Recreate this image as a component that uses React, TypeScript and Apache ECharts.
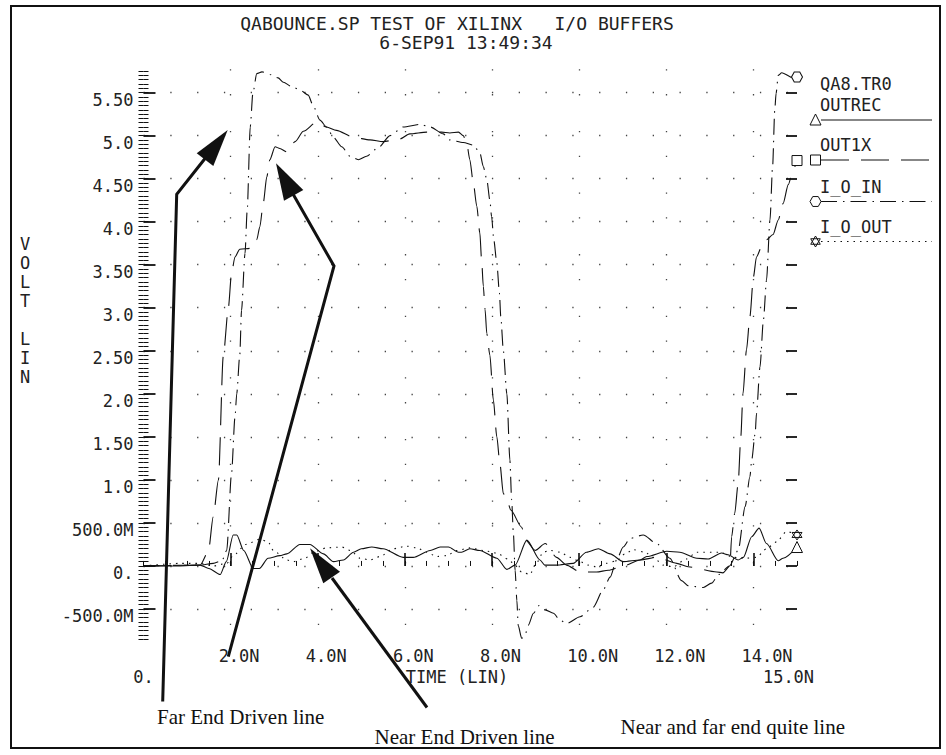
import React, { useEffect, useRef } from 'react';
import * as echarts from 'echarts';

// ---- axis extents and tick labels (time in ns, voltage in V) ----
const T_RANGE = [0, 15];
const V_RANGE = [-0.88, 5.77];
const X_MINOR_STEP = 0.5;
const Y_MINOR_STEP = 0.05;
const X_MAJOR_TICKS = [2, 4, 6, 8, 10, 12, 14];
const X_MAJOR_LABELS = ['2.0N', '4.0N', '6.0N', '8.0N', '10.0N', '12.0N', '14.0N'];
const X_END_TICKS = [0, 15];
const X_END_LABELS = ['0.', '15.0N'];
const Y_MAJOR_TICKS = [-0.5, 0, 0.5, 1, 1.5, 2, 2.5, 3, 3.5, 4, 4.5, 5, 5.5];
const Y_MAJOR_LABELS = ['-500.0M', '0.', '500.0M', '1.0', '1.50', '2.0', '2.50', '3.0', '3.50', '4.0', '4.50', '5.0', '5.50'];

// ---- texts ----
const TITLE = 'QABOUNCE.SP TEST OF XILINX\u00a0\u00a0\u00a0I/O BUFFERS';
const SUBTITLE = '6-SEP91 13:49:34';
const PROBE_NAME = 'QA8.TR0';
const X_NAME = 'TIME (LIN)';
const Y_NAME = 'V\nO\nL\nT\n\nL\nI\nN';
const NOTE_FAR = 'Far End Driven line';
const NOTE_NEAR = 'Near End Driven line';
const NOTE_QUIET = 'Near and far end quite line';

// ---- waveforms: [time ns, volts] ----
const OUTREC: [number, number][] = [
  [0, 0], [0.8, 0.0], [1.3, 0.01], [1.5, -0.03], [1.76, -0.1], [1.9, 0.05], [2.06, 0.36], [2.14, 0.36],
  [2.3, 0.18], [2.52, -0.03], [2.66, -0.03], [2.86, 0.09], [3.13, 0.12], [3.29, 0.14], [3.59, 0.25],
  [3.82, 0.25], [4.13, 0.14], [4.36, 0.05], [4.59, 0.07], [4.82, 0.16], [5.0, 0.2], [5.24, 0.22],
  [5.5, 0.2], [5.96, 0.1], [6.19, 0.1], [6.58, 0.18], [6.81, 0.22], [7.0, 0.22], [7.23, 0.16],
  [7.3, 0.16], [7.49, 0.2], [7.72, 0.18], [8.11, 0.09], [8.34, -0.04], [8.53, 0.01], [8.8, 0.3],
  [9.1, 0.07], [9.21, 0.01], [9.48, 0.01], [9.86, 0.03], [10.17, 0.16], [10.44, 0.2], [10.71, 0.14],
  [11.01, 0.05], [11.4, 0.07], [11.55, 0.11], [12.01, 0.17], [12.31, 0.16], [12.7, 0.09], [12.96, 0.08],
  [13.27, 0.15], [13.42, 0.13], [13.65, 0.07], [13.77, 0.1], [13.96, 0.34], [14.13, 0.44], [14.3, 0.26],
  [14.57, 0.06], [14.68, 0.09], [15, 0.22],
];

const OUT1X: [number, number][] = [
  [0, 0], [1.3, 0.01], [1.49, 0.17], [1.6, 0.57], [1.72, 1.0], [1.83, 2.43], [1.95, 3.01], [2.02, 3.4],
  [2.1, 3.59], [2.21, 3.68], [2.48, 3.69], [2.6, 3.79], [2.67, 3.94], [2.75, 4.22], [2.83, 4.52],
  [2.9, 4.72], [3.02, 4.87], [3.13, 4.85], [3.29, 4.81], [3.48, 4.93], [3.67, 5.05], [3.98, 5.16],
  [4.2, 5.1], [4.43, 5.06], [4.82, 4.98], [5.2, 4.95], [5.5, 4.93], [5.88, 4.96], [6.11, 5.02],
  [6.5, 5.04], [6.84, 5.04], [7.03, 5.03], [7.23, 5.04], [7.34, 5.0], [7.42, 4.91], [7.49, 4.72],
  [7.57, 4.45], [7.65, 4.18], [7.72, 3.87], [7.76, 3.56], [7.8, 3.25], [7.84, 2.98], [7.88, 2.7],
  [7.95, 2.45], [8.03, 1.93], [8.11, 1.5], [8.18, 1.19], [8.26, 0.84], [8.34, 0.77], [8.43, 0.65],
  [8.68, 0.45], [8.77, 0.3], [8.99, 0.18], [9.22, 0.26], [9.48, 0.1], [9.71, 0.01], [10.02, -0.07],
  [10.4, -0.07], [10.67, -0.05], [11.01, 0.0], [11.4, 0.07], [11.78, 0.1], [12.24, 0.03], [12.5, -0.01],
  [13.16, -0.07], [13.3, -0.08], [13.46, 0.0], [13.5, 0.34], [13.57, 0.61], [13.65, 0.96], [13.71, 1.5],
  [13.76, 2.0], [13.84, 2.51], [13.92, 2.9], [14.0, 3.36], [14.07, 3.59], [14.19, 3.71], [14.3, 3.79],
  [14.45, 3.85], [14.57, 4.02], [14.68, 4.21], [14.8, 4.43], [14.91, 4.6], [15, 4.71],
];

const I_O_IN: [number, number][] = [
  [0, 0], [1.3, 0.01], [1.6, 0.03], [1.8, 0.06], [1.91, 0.18], [2.02, 1.07], [2.1, 1.73], [2.14, 2.0],
  [2.21, 2.45], [2.25, 2.97], [2.33, 3.63], [2.38, 4.13], [2.45, 5.1], [2.51, 5.49], [2.6, 5.72],
  [2.72, 5.74], [2.9, 5.71], [3.09, 5.67], [3.21, 5.62], [3.4, 5.57], [3.59, 5.53], [3.78, 5.47],
  [3.9, 5.34], [4.05, 5.18], [4.2, 5.1], [4.36, 4.98], [4.55, 4.87], [4.74, 4.76], [4.93, 4.72],
  [5.12, 4.76], [5.39, 4.86], [5.66, 5.0], [5.96, 5.1], [6.35, 5.13], [6.58, 5.1], [6.88, 5.02],
  [7.03, 4.95], [7.34, 4.92], [7.57, 4.89], [7.72, 4.8], [7.8, 4.64], [7.88, 4.49], [7.95, 4.25],
  [7.99, 4.06], [8.04, 3.79], [8.11, 3.52], [8.17, 3.17], [8.2, 2.9], [8.26, 2.5], [8.34, 2.0],
  [8.41, 1.23], [8.45, 0.77], [8.49, 0.38], [8.53, -0.05], [8.57, -0.4], [8.6, -0.69], [8.68, -0.84],
  [8.76, -0.8], [8.83, -0.69], [8.95, -0.55], [9.08, -0.46], [9.22, -0.51], [9.41, -0.55], [9.56, -0.63],
  [9.71, -0.67], [10.02, -0.59], [10.32, -0.48], [10.55, -0.28], [10.71, -0.13], [10.86, 0.07],
  [11.01, 0.22], [11.17, 0.32], [11.47, 0.36], [11.78, 0.26], [12.08, 0.09], [12.35, -0.17],
  [12.5, -0.23], [12.85, -0.25], [13.04, -0.2], [13.2, -0.1], [13.45, 0.0], [13.65, 0.18], [13.81, 0.69],
  [13.92, 1.04], [13.96, 1.23], [14.04, 1.54], [14.07, 1.77], [14.15, 2.31], [14.23, 2.86], [14.3, 3.32],
  [14.38, 4.02], [14.44, 4.64], [14.49, 5.3], [14.52, 5.49], [14.57, 5.7], [14.65, 5.73], [14.91, 5.67],
  [15, 5.68],
];

const I_O_OUT: [number, number][] = [
  [0, 0], [0.84, 0.03], [1.3, 0.03], [1.6, 0.0], [1.91, 0.03], [2.06, 0.12], [2.35, 0.25], [2.67, 0.31],
  [2.86, 0.28], [2.98, 0.18], [3.29, 0.07], [3.44, 0.05], [3.71, 0.09], [3.9, 0.16], [4.2, 0.21],
  [4.55, 0.22], [4.75, 0.18], [4.97, 0.09], [5.2, 0.07], [5.43, 0.11], [5.73, 0.2], [6.04, 0.23],
  [6.27, 0.21], [6.5, 0.16], [6.73, 0.11], [6.96, 0.12], [7.19, 0.18], [7.49, 0.21], [7.8, 0.18],
  [8.11, 0.15], [8.37, 0.08], [8.49, 0.03], [8.68, -0.07], [8.87, -0.1], [8.99, 0.01], [9.18, 0.16],
  [9.33, 0.18], [9.56, 0.16], [9.79, 0.1], [10.02, 0.05], [10.21, 0.01], [10.4, -0.01], [10.63, 0.03],
  [10.86, 0.06], [11.05, 0.14], [11.24, 0.19], [11.51, 0.16], [11.7, 0.1], [11.93, 0.01], [12.16, -0.01],
  [12.45, 0.08], [12.7, 0.16], [13.23, 0.16], [13.54, 0.1], [13.84, 0.09], [14.07, 0.1], [14.3, 0.2],
  [14.53, 0.28], [14.76, 0.4], [15, 0.36],
];

// ---- styling ----
const INK = '#111';
const TEXT_INK = '#222';
const DOT = '#444';
const MONO = '"DejaVu Sans Mono", "Liberation Mono", monospace';
const SERIF = '"Liberation Serif", "DejaVu Serif", serif';
const TICK_FONT = { fontFamily: MONO, fontSize: 17, color: TEXT_INK };

// plot rectangle in page pixels
const PLOT_L = 143.5;
const PLOT_R = 797;
const PLOT_T = 69.3;
const PLOT_B = 641.7;
const PX_PER_NS = (PLOT_R - PLOT_L) / (T_RANGE[1] - T_RANGE[0]);
const LABEL_SHIFT = 12 / PX_PER_NS; // time labels start a little left of their tick

const HEX_PATH = 'path://M-1,0L-0.5,-0.866L0.5,-0.866L1,0L0.5,0.866L-0.5,0.866Z';
const STAR_PATH = 'path://M0,-1L0.866,0.5L-0.866,0.5ZM0,1L-0.866,-0.5L0.866,-0.5Z';

const SERIES_DEFS = [
  { name: 'OUTREC', pts: OUTREC, dash: 'solid' as any, symbol: 'triangle', size: [11, 11] },
  { name: 'OUT1X', pts: OUT1X, dash: [28, 12], symbol: 'rect', size: [10, 10] },
  { name: 'I_O_IN', pts: I_O_IN, dash: [16, 6, 1.5, 6], symbol: HEX_PATH, size: [11, 10] },
  { name: 'I_O_OUT', pts: I_O_OUT, dash: [1.5, 5], symbol: STAR_PATH, size: [10, 10] },
];

function steps(lo: number, hi: number, step: number): number[] {
  const out: number[] = [];
  const a = Math.ceil(lo / step - 1e-9);
  const b = Math.floor(hi / step + 1e-9);
  for (let i = a; i <= b; i++) out.push(+(i * step).toFixed(4));
  return out;
}

function labelFor(values: number[], labels: string[]) {
  return (v: number) => {
    const i = values.findIndex((x) => Math.abs(x - v) < 1e-6);
    return i >= 0 ? labels[i] : '';
  };
}

function legendMarker(kind: string, cx: number, cy: number): any[] {
  const st = { fill: '#fff', stroke: INK, lineWidth: 1 };
  if (kind === 'triangle') {
    return [{ type: 'polygon', shape: { points: [[cx, cy - 6], [cx + 5.5, cy + 5], [cx - 5.5, cy + 5]] }, style: st }];
  }
  if (kind === 'rect') {
    return [{ type: 'rect', shape: { x: cx - 5, y: cy - 5, width: 10, height: 10 }, style: st }];
  }
  if (kind === 'hex') {
    const pts = [[-1, 0], [-0.5, -0.9], [0.5, -0.9], [1, 0], [0.5, 0.9], [-0.5, 0.9]].map(([x, y]) => [cx + x * 5.5, cy + y * 5.5]);
    return [{ type: 'polygon', shape: { points: pts }, style: st }];
  }
  const up = [[0, -1], [0.866, 0.5], [-0.866, 0.5]].map(([x, y]) => [cx + x * 5.5, cy + y * 5.5]);
  const dn = [[0, 1], [-0.866, -0.5], [0.866, -0.5]].map(([x, y]) => [cx + x * 5.5, cy + y * 5.5]);
  return [
    { type: 'polygon', shape: { points: up }, style: { fill: 'none', stroke: INK, lineWidth: 1 } },
    { type: 'polygon', shape: { points: dn }, style: { fill: 'none', stroke: INK, lineWidth: 1 } },
  ];
}

function buildOption(): any {
  const xMinor = steps(T_RANGE[0], T_RANGE[1], X_MINOR_STEP);
  const yMinor = steps(V_RANGE[0], V_RANGE[1], Y_MINOR_STEP);

  const hiddenLine = { show: false };
  const xBase = { type: 'value', position: 'bottom', min: T_RANGE[0], max: T_RANGE[1], axisLine: hiddenLine, splitLine: { show: false } };
  const yBase = { type: 'value', min: V_RANGE[0], max: V_RANGE[1], axisLine: hiddenLine, splitLine: { show: false } };

  const xAxis = [
    { ...xBase, axisTick: { show: true, inside: true, length: 5, customValues: xMinor, lineStyle: { color: INK, width: 1 } }, axisLabel: { show: false } },
    {
      ...xBase,
      axisTick: { show: true, inside: true, length: 13, customValues: X_MAJOR_TICKS, lineStyle: { color: INK, width: 1.6 } },
      axisLabel: { show: false },
      splitLine: { show: true, lineStyle: { color: DOT, width: 1.3, type: [1.3, 23.5, 1.3, 35.5] } },
    },
    {
      ...xBase,
      min: T_RANGE[0] + LABEL_SHIFT,
      max: T_RANGE[1] + LABEL_SHIFT,
      axisTick: { show: false },
      axisLabel: { ...TICK_FONT, customValues: X_MAJOR_TICKS, align: 'left', margin: 6, formatter: labelFor(X_MAJOR_TICKS, X_MAJOR_LABELS) },
    },
    {
      ...xBase,
      axisTick: { show: false },
      axisLabel: {
        ...TICK_FONT,
        customValues: X_END_TICKS,
        margin: 27,
        formatter: (v: number) => (Math.abs(v - X_END_TICKS[0]) < 1e-6 ? `{a|${X_END_LABELS[0]}}` : `{b|${X_END_LABELS[1]}}`),
        rich: {
          a: { fontFamily: MONO, fontSize: 17, color: TEXT_INK },
          b: { fontFamily: MONO, fontSize: 17, color: TEXT_INK, padding: [0, 17, 0, 0] },
        },
      },
    },
  ];

  const yAxis = [
    { ...yBase, position: 'left', axisTick: { show: true, inside: true, length: 5, customValues: yMinor, lineStyle: { color: INK, width: 1 } }, axisLabel: { show: false } },
    {
      ...yBase,
      position: 'left',
      axisTick: { show: true, inside: true, length: 12, customValues: Y_MAJOR_TICKS, lineStyle: { color: INK, width: 1.8 } },
      // voltage labels sit just below their tick
      axisLabel: { ...TICK_FONT, customValues: Y_MAJOR_TICKS, margin: 10, verticalAlign: 'top', lineHeight: 14, formatter: labelFor(Y_MAJOR_TICKS, Y_MAJOR_LABELS) },
      splitLine: { show: true, lineStyle: { color: DOT, width: 1.3, type: [1.3, 25.5] } },
    },
    { ...yBase, position: 'right', axisTick: { show: true, inside: true, length: 5, customValues: yMinor, lineStyle: { color: INK, width: 1 } }, axisLabel: { show: false } },
    { ...yBase, position: 'right', axisTick: { show: true, inside: true, length: 11, customValues: Y_MAJOR_TICKS, lineStyle: { color: INK, width: 1.8 } }, axisLabel: { show: false } },
  ];

  const series = SERIES_DEFS.map((d) => ({
    type: 'line',
    name: d.name,
    xAxisIndex: 0,
    yAxisIndex: 0,
    silent: true,
    clip: false,
    smooth: 0.25,
    smoothMonotone: 'x',
    symbol: 'none',
    showSymbol: true,
    lineStyle: { color: INK, width: 1.1, type: d.dash },
    data: d.pts.map((p, i) =>
      i === d.pts.length - 1
        ? { value: p, symbol: d.symbol, symbolSize: d.size, itemStyle: { color: '#fff', borderColor: INK, borderWidth: 1 } }
        : p
    ),
    z: 3,
  }));

  // legend block on the right: name above, line sample below with its marker
  const legendKinds = ['triangle', 'rect', 'hex', 'star'];
  const legendTextY = [105, 145, 187, 227];
  const legendLineY = [120, 160, 201.5, 241.5];
  const legend: any[] = [
    { type: 'text', x: 820, y: 84, style: { text: PROBE_NAME, font: `17px ${MONO}`, fill: TEXT_INK, align: 'left', verticalAlign: 'middle' } },
  ];
  SERIES_DEFS.forEach((d, i) => {
    legend.push({ type: 'text', x: 820, y: legendTextY[i], style: { text: d.name, font: `17px ${MONO}`, fill: TEXT_INK, align: 'left', verticalAlign: 'middle' } });
    legend.push({
      type: 'line',
      shape: { x1: 821, y1: legendLineY[i], x2: 932, y2: legendLineY[i] },
      style: { stroke: INK, lineWidth: 1.1, lineDash: Array.isArray(d.dash) ? d.dash : null },
    });
    legend.push(...legendMarker(legendKinds[i], 815.5, legendLineY[i]));
  });

  const arrows: any[] = [
    // far end note
    { type: 'polyline', shape: { points: [[162.7, 701.5], [176.7, 194.3], [207, 156]] }, style: { stroke: INK, lineWidth: 3, fill: null } },
    { type: 'polygon', shape: { points: [[227.7, 130], [213.3, 166], [196.7, 153.3]] }, style: { fill: INK } },
    // near end note
    { type: 'polyline', shape: { points: [[228.3, 656.7], [334, 266], [293, 194]] }, style: { stroke: INK, lineWidth: 3, fill: null } },
    { type: 'polygon', shape: { points: [[276, 163.3], [303.3, 190], [284, 200.7]] }, style: { fill: INK } },
    // quiet line note
    { type: 'polyline', shape: { points: [[427, 707.5], [332, 578]] }, style: { stroke: INK, lineWidth: 3, fill: null } },
    { type: 'polygon', shape: { points: [[310, 548.3], [340, 571.7], [323.3, 583.3]] }, style: { fill: INK } },
  ].map((e) => ({ ...e, z: 100 }));

  const texts: any[] = [
    { type: 'text', x: 457, y: 23, style: { text: TITLE, font: `18px ${MONO}`, fill: TEXT_INK, align: 'center', verticalAlign: 'middle' } },
    { type: 'text', x: 466, y: 42, style: { text: SUBTITLE, font: `18px ${MONO}`, fill: TEXT_INK, align: 'center', verticalAlign: 'middle' } },
    { type: 'text', x: 457, y: 677, style: { text: X_NAME, font: `17px ${MONO}`, fill: TEXT_INK, align: 'center', verticalAlign: 'middle' } },
    { type: 'text', x: 25, y: 310, style: { text: Y_NAME, font: `17px ${MONO}`, lineHeight: 19, fill: TEXT_INK, align: 'center', verticalAlign: 'middle' } },
    { type: 'text', x: 157, y: 717, style: { text: NOTE_FAR, font: `21px ${SERIF}`, fill: INK, align: 'left', verticalAlign: 'middle' } },
    { type: 'text', x: 374.5, y: 736.5, style: { text: NOTE_NEAR, font: `21px ${SERIF}`, fill: INK, align: 'left', verticalAlign: 'middle' } },
    { type: 'text', x: 620.5, y: 727, style: { text: NOTE_QUIET, font: `21px ${SERIF}`, fill: INK, align: 'left', verticalAlign: 'middle' } },
    { type: 'rect', shape: { x: 11, y: 6, width: 929, height: 742 }, style: { fill: 'none', stroke: INK, lineWidth: 2 } },
  ];

  return {
    animation: false,
    backgroundColor: '#fff',
    grid: {
      left: PLOT_L,
      top: PLOT_T,
      width: PLOT_R - PLOT_L,
      height: PLOT_B - PLOT_T,
      containLabel: false,
      outerBoundsMode: 'none',
    },
    xAxis,
    yAxis,
    series,
    graphic: { elements: [...texts, ...legend, ...arrows] },
  };
}

export default function App() {
  const ref = useRef<HTMLDivElement>(null);
  useEffect(() => {
    if (!ref.current) return;
    const chart = echarts.init(ref.current, null, { renderer: 'svg' });
    chart.setOption(buildOption());
    return () => chart.dispose();
  }, []);
  return (
    <div
      ref={ref}
      style={{ position: 'absolute', left: 0, top: 0, width: 946, height: 755, background: '#fff' }}
    />
  );
}
